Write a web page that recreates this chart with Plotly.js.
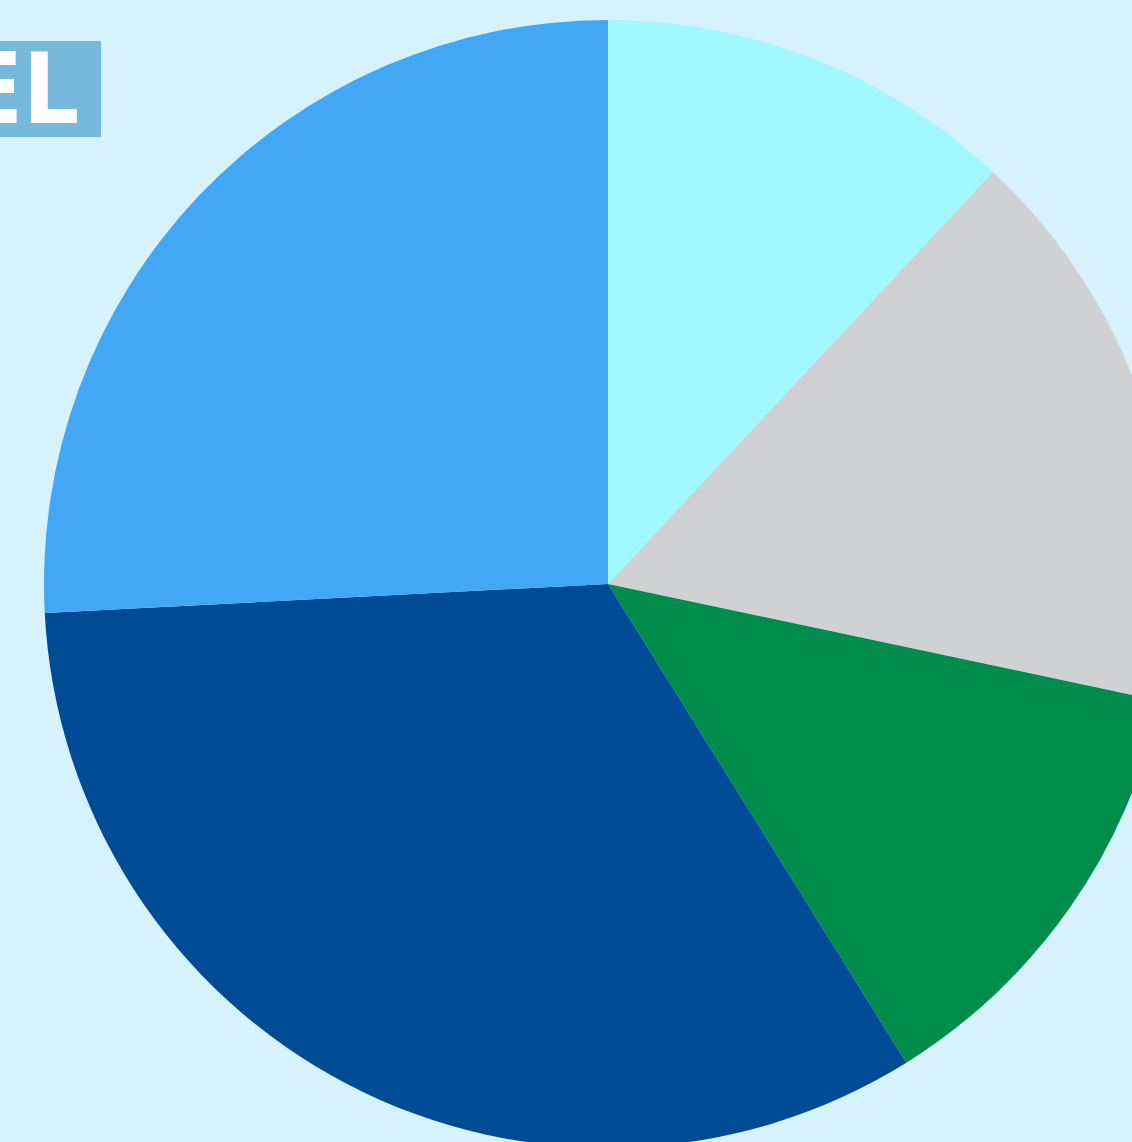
<!DOCTYPE html>
<html>
<head>
<meta charset="utf-8">
<script src="https://cdn.plot.ly/plotly-3.0.1.min.js"></script>
<style>
html, body { margin: 0; padding: 0; overflow: hidden; background: #D6F2FD; }
#chart { width: 1216px; height: 1168px; }
</style>
</head>
<body>
<div id="chart"></div>
<script>
const categories = ["Segment 1", "Segment 2", "Segment 3", "Segment 4", "Segment 5"];
const values = [11.96, 16.36, 12.81, 33.05, 25.82];
const sliceColors = ["#A2F8FF", "#D0D1D3", "#008C4A", "#004B96", "#42A8F5"];
const badgeText = "EL";

const data = [{
  type: "pie",
  labels: categories,
  values: values,
  sort: false,
  direction: "clockwise",
  rotation: 0,
  textinfo: "none",
  hoverinfo: "label+percent",
  marker: { colors: sliceColors, line: { width: 0 } }
}];

const layout = {
  width: 1216,
  height: 1168,
  margin: { l: 44, r: 44, t: 20, b: 20 },
  paper_bgcolor: "#D6F2FD",
  plot_bgcolor: "#D6F2FD",
  showlegend: false,
  annotations: [{
    text: badgeText,
    xref: "paper", yref: "paper",
    x: (101 - 44) / 1128, y: 1 - (41 - 20) / 1128,
    xanchor: "right", yanchor: "top",
    showarrow: false,
    width: 160,
    height: 96,
    align: "center",
    valign: "middle",
    bgcolor: "#76B9DC",
    borderpad: 0,
    borderwidth: 0,
    font: { family: "DejaVu Sans Condensed, DejaVu Sans, sans-serif", size: 98, color: "#FFFFFF", weight: "bold" }
  }]
};

Plotly.newPlot("chart", data, layout, { displayModeBar: false, staticPlot: true });
</script>
</body>
</html>
